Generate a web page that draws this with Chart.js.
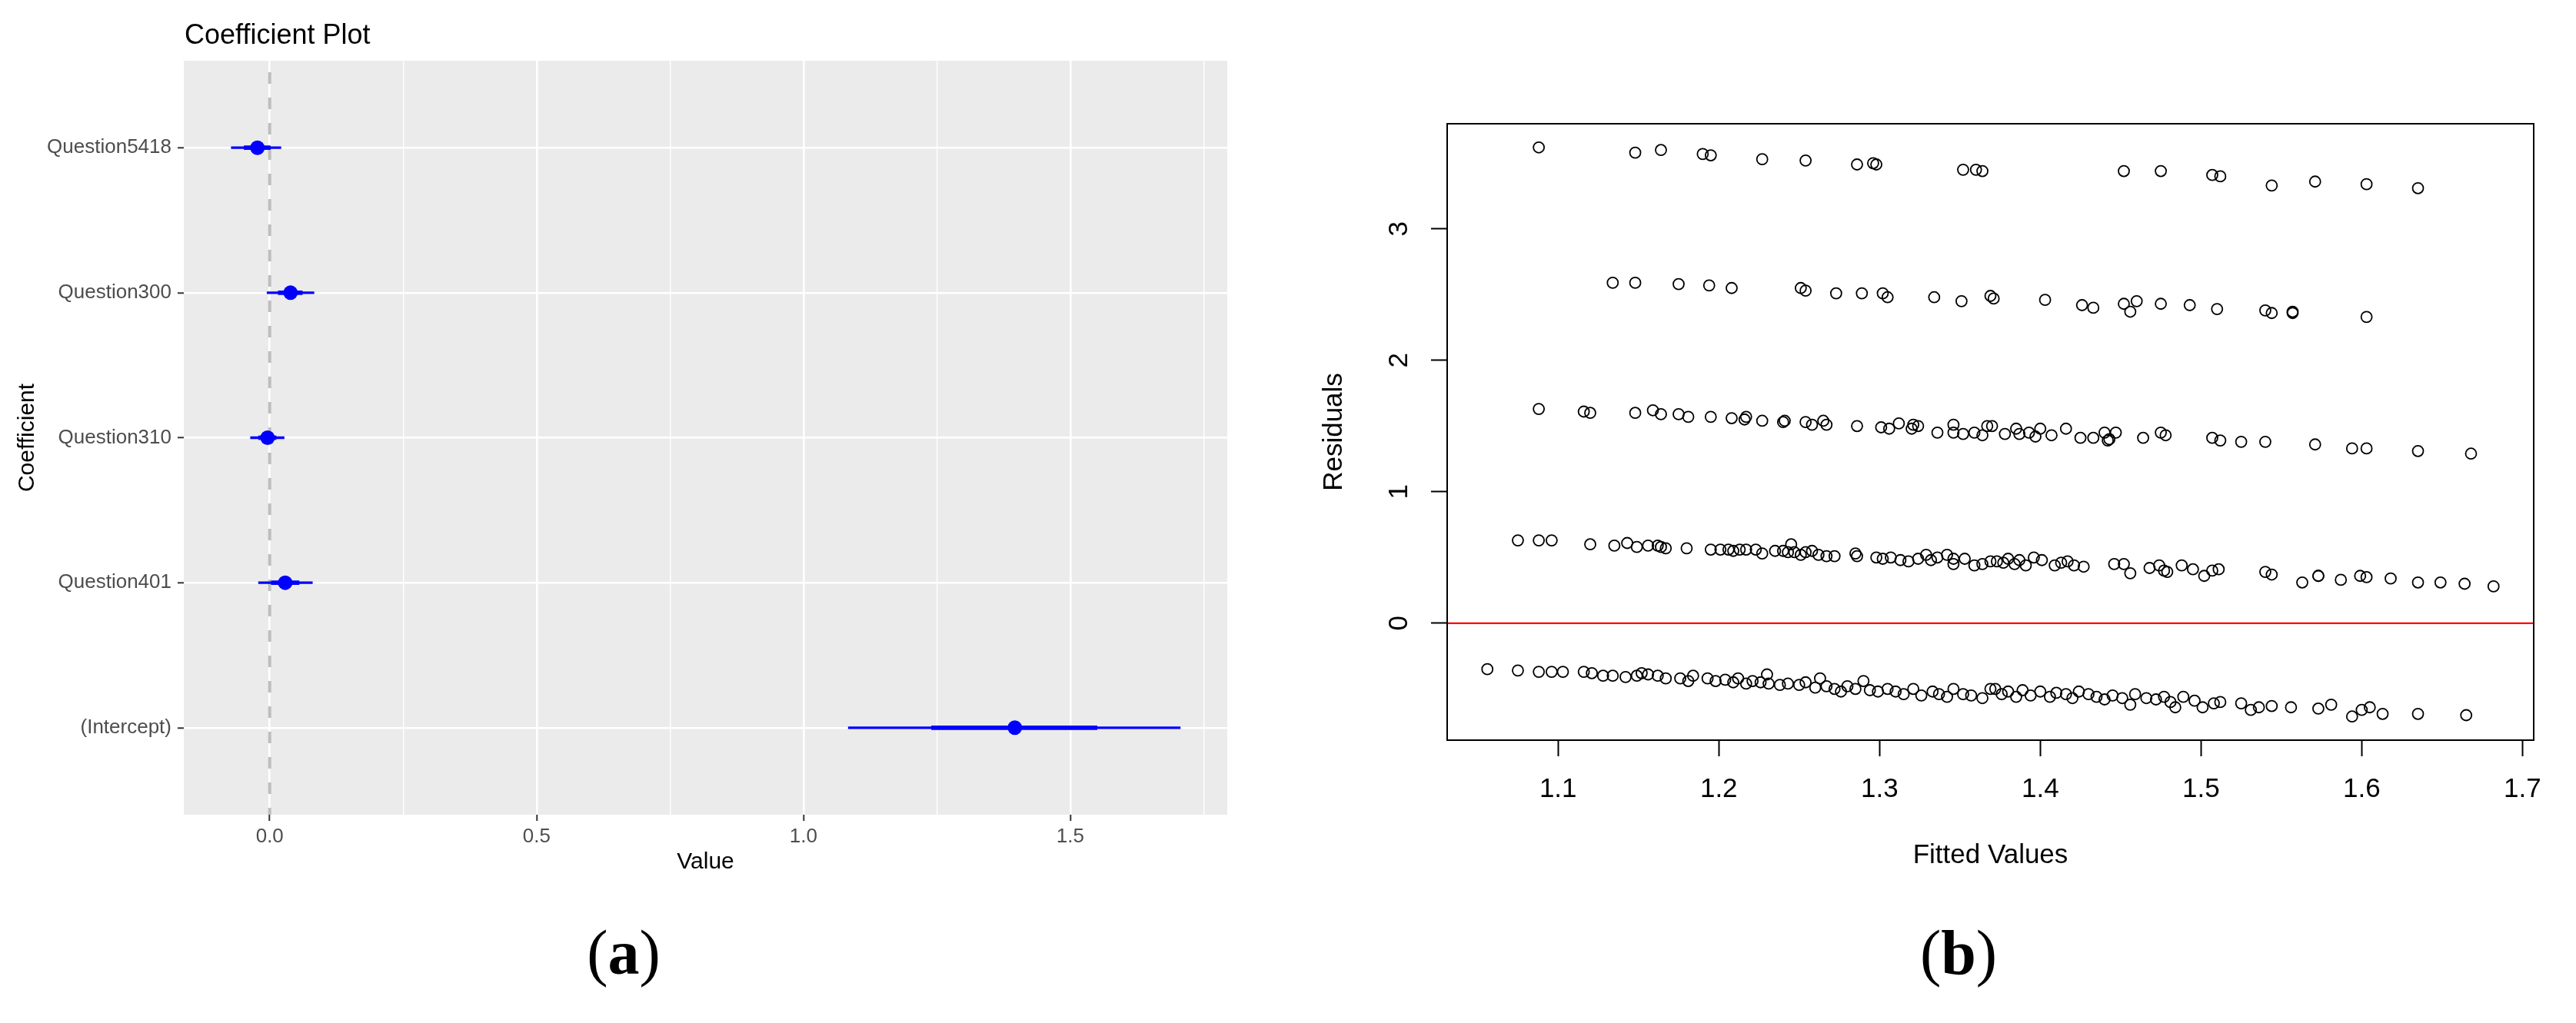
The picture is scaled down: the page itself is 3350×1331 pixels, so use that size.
<!DOCTYPE html>
<html>
<head>
<meta charset="utf-8">
<script src="https://cdn.jsdelivr.net/npm/chart.js@4.4.0/dist/chart.umd.min.js"></script>
<style>
  body { margin: 0; background: #fff; }
  #page { position: relative; width: 3350px; height: 1331px; overflow: hidden; background: #fff; }
  .box { position: absolute; top: 0; }
  .cap { position: absolute; font-family: "Liberation Serif", "Times New Roman", serif; font-size: 82px;
         line-height: 1; transform: translate(-50%, -50%); color: #000; white-space: nowrap; }
</style>
</head>
<body>
<div id="page">
  <div class="box" style="left:0;width:1700px;height:1180px"><canvas id="coefChart"></canvas></div>
  <div class="box" style="left:1700px;width:1650px;height:1180px"><canvas id="residChart"></canvas></div>
  <div class="cap" style="left:811px;top:1240px">(<b>a</b>)</div>
  <div class="cap" style="left:2547px;top:1240px">(<b>b</b>)</div>
</div>
<script>
// (a) coefficient plot, listed top to bottom
var coefNames = ["Question5418", "Question300", "Question310", "Question401", "(Intercept)"];
var coefValue = [-0.023, 0.039, -0.004, 0.029, 1.396];
var innerLow  = [-0.048, 0.016, -0.021, 0.003, 1.240];
var innerHigh = [0.001, 0.061, 0.012, 0.055, 1.550];
var outerLow  = [-0.072, -0.005, -0.036, -0.021, 1.084];
var outerHigh = [0.021, 0.083, 0.027, 0.080, 1.706];
var valueTicks = [0, 0.25, 0.5, 0.75, 1, 1.25, 1.5, 1.75];

// (b) residuals vs fitted, one pair of arrays per band
var fit3 = [1.088,1.148,1.164,1.190,1.195,1.227,1.254,1.286,1.296,1.298,1.352,1.360,1.364,1.452,1.475,1.507,1.512,1.544,1.571,1.603,1.635];
var res3 = [3.62,3.58,3.60,3.57,3.56,3.53,3.52,3.49,3.50,3.49,3.45,3.45,3.44,3.44,3.44,3.41,3.40,3.33,3.36,3.34,3.31];

var fit2 = [1.134,1.148,1.175,1.194,1.208,1.251,1.254,1.273,1.289,1.302,1.305,1.334,1.351,1.369,1.371,1.403,1.426,1.433,1.452,1.456,1.460,1.475,1.493,1.510,1.540,1.544,1.557,1.557,1.603];
var res2 = [2.59,2.59,2.58,2.57,2.55,2.55,2.53,2.51,2.51,2.51,2.48,2.48,2.45,2.49,2.47,2.46,2.42,2.40,2.43,2.37,2.45,2.43,2.42,2.39,2.38,2.36,2.36,2.37,2.33];

var fit1 = [1.088,1.116,1.120,1.148,1.159,1.164,1.175,1.181,1.195,1.208,1.216,1.217,1.227,1.240,1.241,1.254,1.258,1.265,1.267,1.286,1.301,1.306,1.312,1.320,1.321,1.324,1.336,1.346,1.346,1.352,1.359,1.364,1.367,
            1.370,1.378,1.385,1.387,1.393,1.397,1.400,1.407,1.416,1.425,1.433,1.440,1.442,1.443,1.447,1.464,1.475,1.478,1.507,1.512,1.525,1.540,1.571,1.594,1.603,1.635,1.668];
var res1 = [1.63,1.61,1.60,1.60,1.62,1.59,1.59,1.57,1.57,1.56,1.55,1.57,1.54,1.53,1.54,1.53,1.51,1.54,1.51,1.50,1.49,1.48,1.52,1.48,1.51,1.50,1.45,1.51,1.45,1.44,1.45,1.43,1.50,
            1.50,1.44,1.48,1.44,1.45,1.42,1.48,1.43,1.48,1.41,1.41,1.45,1.39,1.40,1.45,1.41,1.45,1.43,1.41,1.39,1.38,1.38,1.36,1.33,1.33,1.31,1.29];

var fit0 = [1.075,1.088,1.096,1.120,1.135,1.143,1.149,1.156,1.162,1.164,1.167,1.180,1.195,1.201,1.206,1.209,1.213,1.217,1.223,1.227,1.235,1.240,1.243,1.245,1.247,
            1.251,1.254,1.258,1.262,1.267,1.272,1.285,1.286,1.298,1.302,1.307,1.313,1.318,1.324,1.329,1.332,1.336,1.342,1.346,1.346,1.353,1.359,1.364,1.369,
            1.373,1.377,1.380,1.384,1.387,1.391,1.396,1.401,1.409,1.413,1.417,1.421,1.427,1.446,1.452,1.456,1.468,1.474,1.477,1.479,1.488,1.495,1.502,1.507,1.511,
            1.540,1.544,1.563,1.573,1.573,1.587,1.599,1.603,1.618,1.635,1.649,1.664,1.682];
var res0 = [0.63,0.63,0.63,0.60,0.59,0.61,0.58,0.59,0.59,0.58,0.57,0.57,0.56,0.56,0.56,0.55,0.56,0.56,0.56,0.53,0.55,0.55,0.54,0.60,0.54,
            0.52,0.54,0.55,0.52,0.51,0.51,0.53,0.51,0.50,0.49,0.50,0.48,0.47,0.49,0.52,0.48,0.50,0.52,0.45,0.49,0.49,0.44,0.45,0.47,
            0.47,0.46,0.49,0.45,0.48,0.44,0.50,0.48,0.44,0.46,0.47,0.44,0.43,0.45,0.45,0.38,0.42,0.44,0.40,0.39,0.44,0.41,0.36,0.40,0.41,
            0.39,0.37,0.31,0.36,0.36,0.33,0.36,0.35,0.34,0.31,0.31,0.30,0.28];

var fitN = [1.056,1.075,1.088,1.096,1.103,1.116,1.121,1.128,1.134,1.142,1.149,1.152,1.156,1.162,1.167,1.176,1.181,1.184,1.193,1.198,
            1.204,1.209,1.212,1.217,1.221,1.226,1.230,1.231,1.238,1.243,1.250,1.254,1.260,1.263,1.267,1.272,1.276,1.280,1.285,1.290,
            1.294,1.299,1.305,1.310,1.315,1.321,1.326,1.333,1.337,1.342,1.346,1.352,1.357,1.364,1.369,
            1.372,1.376,1.380,1.385,1.389,1.394,1.400,1.406,1.410,1.416,1.420,1.424,1.430,1.435,1.440,1.445,1.451,1.456,1.459,1.466,
            1.472,1.477,1.481,1.484,1.489,1.496,1.501,1.508,1.512,1.525,1.531,1.536,1.544,1.556,1.573,1.581,1.594,1.600,1.605,1.613,1.635,1.665];
var resN = [-0.35,-0.36,-0.37,-0.37,-0.37,-0.37,-0.38,-0.40,-0.40,-0.41,-0.40,-0.38,-0.39,-0.40,-0.42,-0.42,-0.44,-0.40,-0.42,-0.44,
            -0.43,-0.45,-0.42,-0.46,-0.44,-0.45,-0.39,-0.46,-0.47,-0.46,-0.47,-0.45,-0.49,-0.42,-0.48,-0.50,-0.52,-0.48,-0.50,-0.44,
            -0.51,-0.52,-0.50,-0.52,-0.54,-0.50,-0.55,-0.52,-0.54,-0.56,-0.50,-0.54,-0.55,-0.57,-0.50,
            -0.50,-0.54,-0.52,-0.56,-0.51,-0.55,-0.52,-0.56,-0.53,-0.54,-0.57,-0.52,-0.54,-0.56,-0.58,-0.55,-0.57,-0.62,-0.54,-0.57,
            -0.58,-0.56,-0.60,-0.64,-0.56,-0.59,-0.64,-0.61,-0.60,-0.61,-0.66,-0.64,-0.63,-0.64,-0.65,-0.62,-0.71,-0.66,-0.64,-0.69,-0.69,-0.70];

var fittedTicks = [1.1, 1.2, 1.3, 1.4, 1.5, 1.6, 1.7];
var residTicks = [0, 1, 2, 3];

var sans = '"Liberation Sans", Arial, sans-serif';

function isMajor(v) {
  return Math.abs(v * 2 - Math.round(v * 2)) < 1e-9;
}

// grey panel, dashed zero line and the title for the ggplot-style chart
var coefDecor = {
  id: 'coefDecor',
  beforeDraw: function(chart) {
    var a = chart.chartArea, c = chart.ctx;
    c.save();
    c.fillStyle = '#EBEBEB';
    c.fillRect(a.left, a.top, a.right - a.left, a.bottom - a.top);
    c.restore();
  },
  beforeDatasetsDraw: function(chart) {
    var a = chart.chartArea, c = chart.ctx;
    var x0 = chart.scales.x.getPixelForValue(0);
    c.save();
    c.strokeStyle = '#BEBEBE';
    c.lineWidth = 4;
    c.setLineDash([15, 18]);
    c.lineDashOffset = 18;
    c.beginPath();
    c.moveTo(x0, a.top);
    c.lineTo(x0, a.bottom);
    c.stroke();
    c.restore();
  },
  afterDraw: function(chart) {
    var c = chart.ctx;
    c.save();
    c.fillStyle = '#000';
    c.font = '36px ' + sans;
    c.textBaseline = 'alphabetic';
    c.fillText('Coefficient Plot', chart.chartArea.left + 1, 57);
    c.restore();
  }
};

new Chart(document.getElementById('coefChart'), {
  type: 'bar',
  data: {
    datasets: [{
      type: 'scatter',
      data: coefNames.map(function(n, i) { return {x: coefValue[i], y: i + 1}; }),
      pointRadius: 9.5,
      backgroundColor: '#0000FF',
      borderWidth: 0,
      order: 0
    }, {
      type: 'bar',
      indexAxis: 'y',
      grouped: false,
      data: coefNames.map(function(n, i) { return {y: i + 1, x: [innerLow[i], innerHigh[i]]}; }),
      barThickness: 5,
      backgroundColor: '#0000FF',
      borderWidth: 0,
      order: 1
    }, {
      type: 'bar',
      indexAxis: 'y',
      grouped: false,
      data: coefNames.map(function(n, i) { return {y: i + 1, x: [outerLow[i], outerHigh[i]]}; }),
      barThickness: 2.6,
      backgroundColor: '#0000FF',
      borderWidth: 0,
      order: 2
    }]
  },
  options: {
    responsive: true,
    maintainAspectRatio: false,
    animation: false,
    devicePixelRatio: 1,
    events: [],
    layout: { padding: { top: 79, right: 104, bottom: 0, left: 0 } },
    plugins: { legend: { display: false }, tooltip: { enabled: false } },
    scales: {
      x: {
        type: 'linear', min: -0.161, max: 1.794, offset: false,
        afterBuildTicks: function(s) { s.ticks = valueTicks.map(function(v) { return {value: v}; }); },
        afterFit: function(s) { s.height = 120; },
        grid: {
          offset: false, color: '#FFFFFF',
          lineWidth: function(ctx) { return isMajor(ctx.tick.value) ? 2.6 : 1.4; },
          tickColor: function(ctx) { return isMajor(ctx.tick.value) ? '#333333' : 'rgba(0,0,0,0)'; },
          tickLength: 8, tickWidth: 2
        },
        border: { display: false },
        ticks: {
          autoSkip: false, maxRotation: 0, minRotation: 0, padding: 5, color: '#4D4D4D',
          font: { family: sans, size: 26 },
          callback: function(v) { return isMajor(v) ? v.toFixed(1) : ''; }
        },
        title: { display: true, text: 'Value', color: '#000', font: { family: sans, size: 30 }, padding: { top: 0, bottom: 40 } }
      },
      y: {
        type: 'linear', reverse: true, min: 0.4, max: 5.6, offset: false,
        afterBuildTicks: function(s) { s.ticks = coefNames.map(function(n, i) { return {value: i + 1}; }); },
        afterFit: function(s) { s.width = 239; },
        grid: { offset: false, color: '#FFFFFF', lineWidth: 2.6, tickColor: '#333333', tickLength: 8, tickWidth: 2 },
        border: { display: false },
        ticks: {
          autoSkip: false, padding: 8, color: '#4D4D4D',
          font: { family: sans, size: 26 },
          callback: function(v) { return coefNames[Math.round(v) - 1]; }
        },
        title: { display: true, text: 'Coefficient', color: '#000', font: { family: sans, size: 30 }, padding: { top: 18, bottom: 0 } }
      }
    }
  },
  plugins: [coefDecor]
});

// base-R style frame, red zero line and rotated y labels
var residDecor = {
  id: 'residDecor',
  afterDatasetsDraw: function(chart) {
    var a = chart.chartArea, c = chart.ctx;
    var y0 = chart.scales.y.getPixelForValue(0);
    c.save();
    c.strokeStyle = '#FF0000';
    c.lineWidth = 2.2;
    c.beginPath();
    c.moveTo(a.left, y0);
    c.lineTo(a.right, y0);
    c.stroke();
    c.restore();
  },
  afterDraw: function(chart) {
    var a = chart.chartArea, c = chart.ctx, ys = chart.scales.y;
    c.save();
    c.strokeStyle = '#000';
    c.lineWidth = 2;
    c.strokeRect(a.left, a.top, a.right - a.left, a.bottom - a.top);
    c.fillStyle = '#000';
    c.font = '35px ' + sans;
    c.textAlign = 'center';
    c.textBaseline = 'middle';
    residTicks.forEach(function(v) {
      c.save();
      c.translate(120, ys.getPixelForValue(v));
      c.rotate(-Math.PI / 2);
      c.fillText(String(v), 0, 0);
      c.restore();
    });
    c.restore();
  }
};

function band(fit, res) {
  return {
    data: fit.map(function(f, i) { return {x: f, y: res[i]}; }),
    pointRadius: 7,
    borderWidth: 1.8,
    borderColor: '#000',
    backgroundColor: 'rgba(0,0,0,0)'
  };
}

new Chart(document.getElementById('residChart'), {
  type: 'scatter',
  data: {
    datasets: [band(fit3, res3), band(fit2, res2), band(fit1, res1), band(fit0, res0), band(fitN, resN)]
  },
  options: {
    responsive: true,
    maintainAspectRatio: false,
    animation: false,
    devicePixelRatio: 1,
    events: [],
    layout: { padding: { top: 161, right: 55, bottom: 0, left: 0 } },
    plugins: { legend: { display: false }, tooltip: { enabled: false } },
    scales: {
      x: {
        type: 'linear', min: 1.031, max: 1.707, offset: false,
        afterBuildTicks: function(s) { s.ticks = fittedTicks.map(function(v) { return {value: v}; }); },
        afterFit: function(s) { s.height = 217; },
        grid: { drawOnChartArea: false, tickColor: '#000', tickLength: 21, tickWidth: 2 },
        border: { display: false },
        ticks: {
          autoSkip: false, maxRotation: 0, minRotation: 0, padding: 22, color: '#000',
          font: { family: sans, size: 35 },
          callback: function(v) { return v.toFixed(1); }
        },
        title: { display: true, text: 'Fitted Values', color: '#000', font: { family: sans, size: 35 }, padding: { top: 0, bottom: 46 } }
      },
      y: {
        type: 'linear', min: -0.89, max: 3.80, offset: false,
        afterBuildTicks: function(s) { s.ticks = residTicks.map(function(v) { return {value: v}; }); },
        afterFit: function(s) { s.width = 182; },
        grid: { drawOnChartArea: false, tickColor: '#000', tickLength: 21, tickWidth: 2 },
        border: { display: false },
        ticks: { display: false },
        title: { display: true, text: 'Residuals', color: '#000', font: { family: sans, size: 35 }, padding: { top: 14, bottom: 0 } }
      }
    }
  },
  plugins: [residDecor]
});
</script>
</body>
</html>
